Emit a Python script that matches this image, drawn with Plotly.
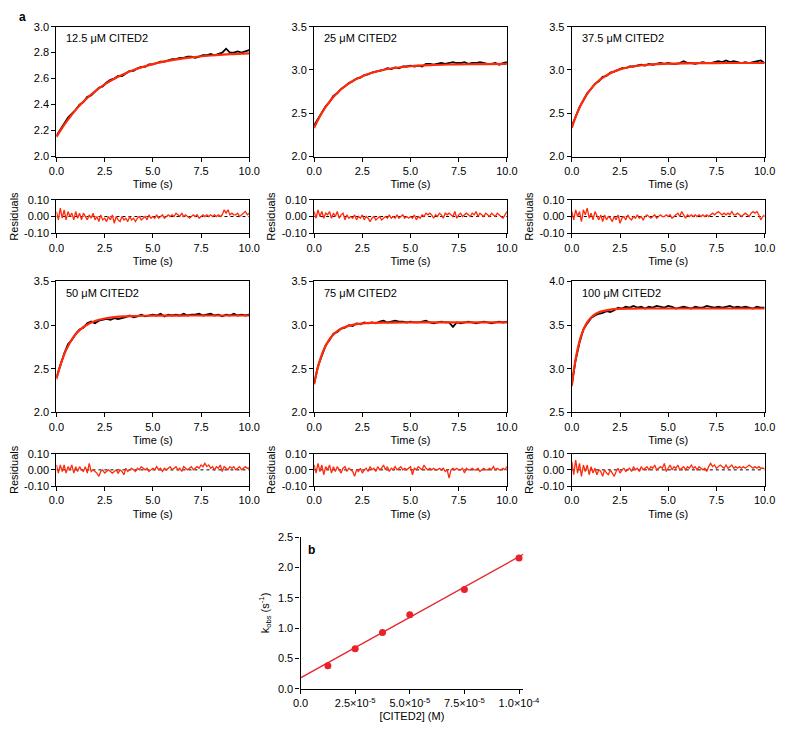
import plotly.graph_objects as go

# ---------------- data ----------------
CONC_LABELS = ["12.5 μM CITED2", "25 μM CITED2", "37.5 μM CITED2",
               "50 μM CITED2", "75 μM CITED2", "100 μM CITED2"]

TIME_FIT = [0, 0.1, 0.2, 0.3, 0.4, 0.5, 0.75, 1, 1.25, 1.5, 2, 2.5, 3, 3.5, 4, 5, 6, 7, 8, 9, 10]

TIME_TRACE = [0, 0.2, 0.4, 0.6, 0.8, 1.0, 1.2, 1.4, 1.6, 1.8,
              2.0, 2.2, 2.4, 2.6, 2.8, 3.0, 3.2, 3.4, 3.6, 3.8,
              4.0, 4.2, 4.4, 4.6, 4.8, 5.0, 5.2, 5.4, 5.6, 5.8,
              6.0, 6.2, 6.4, 6.6, 6.8, 7.0, 7.2, 7.4, 7.6, 7.8,
              8.0, 8.2, 8.4, 8.6, 8.8, 9.0, 9.2, 9.4, 9.6, 9.8,
              10.0]

TIME_RES = [0, 0.1, 0.2, 0.3, 0.4, 0.5, 0.6, 0.7, 0.8, 0.9,
            1.0, 1.1, 1.2, 1.3, 1.4, 1.5, 1.6, 1.7, 1.8, 1.9,
            2.0, 2.1, 2.2, 2.3, 2.4, 2.5, 2.6, 2.7, 2.8, 2.9,
            3.0, 3.1, 3.2, 3.3, 3.4, 3.5, 3.6, 3.7, 3.8, 3.9,
            4.0, 4.1, 4.2, 4.3, 4.4, 4.5, 4.6, 4.7, 4.8, 4.9,
            5.0, 5.1, 5.2, 5.3, 5.4, 5.5, 5.6, 5.7, 5.8, 5.9,
            6.0, 6.1, 6.2, 6.3, 6.4, 6.5, 6.6, 6.7, 6.8, 6.9,
            7.0, 7.1, 7.2, 7.3, 7.4, 7.5, 7.6, 7.7, 7.8, 7.9,
            8.0, 8.1, 8.2, 8.3, 8.4, 8.5, 8.6, 8.7, 8.8, 8.9,
            9.0, 9.1, 9.2, 9.3, 9.4, 9.5, 9.6, 9.7, 9.8, 9.9,
            10.0]

# fitted single-exponential curves
FIT_125 = [2.150, 2.175, 2.198, 2.221, 2.243, 2.264, 2.314, 2.359, 2.400, 2.437, 2.501,
           2.555, 2.599, 2.635, 2.666, 2.711, 2.742, 2.764, 2.778, 2.788, 2.795]
FIT_25 = [2.330, 2.377, 2.422, 2.463, 2.502, 2.538, 2.619, 2.688, 2.746, 2.795, 2.872,
          2.928, 2.968, 2.997, 3.017, 3.043, 3.056, 3.063, 3.066, 3.068, 3.069]
FIT_375 = [2.330, 2.397, 2.457, 2.513, 2.563, 2.609, 2.707, 2.784, 2.846, 2.894, 2.963,
           3.007, 3.034, 3.051, 3.062, 3.073, 3.077, 3.079, 3.080, 3.080, 3.080]
FIT_50 = [2.380, 2.464, 2.538, 2.604, 2.662, 2.713, 2.818, 2.895, 2.951, 2.993, 3.046,
          3.075, 3.091, 3.100, 3.104, 3.108, 3.109, 3.110, 3.110, 3.110, 3.110]
FIT_75 = [2.320, 2.427, 2.519, 2.596, 2.662, 2.717, 2.822, 2.892, 2.939, 2.969, 3.003,
          3.018, 3.025, 3.028, 3.029, 3.030, 3.030, 3.030, 3.030, 3.030, 3.030]
FIT_100 = [2.800, 2.973, 3.112, 3.224, 3.315, 3.388, 3.514, 3.587, 3.630, 3.655, 3.678,
           3.686, 3.689, 3.690, 3.690, 3.690, 3.690, 3.690, 3.690, 3.690, 3.690]

# measured traces (black)
DATA_125 = [2.16, 2.21, 2.25, 2.30, 2.33, 2.36, 2.40, 2.42, 2.46, 2.47,
            2.50, 2.53, 2.54, 2.57, 2.59, 2.60, 2.62, 2.62, 2.64, 2.66,
            2.66, 2.68, 2.69, 2.69, 2.71, 2.71, 2.72, 2.73, 2.73, 2.74,
            2.75, 2.75, 2.76, 2.76, 2.77, 2.77, 2.76, 2.77, 2.78, 2.78,
            2.79, 2.78, 2.79, 2.80, 2.83, 2.80, 2.80, 2.81, 2.80, 2.81,
            2.82]
DATA_25 = [2.36, 2.43, 2.50, 2.58, 2.63, 2.70, 2.73, 2.78, 2.81, 2.85,
           2.87, 2.90, 2.91, 2.94, 2.95, 2.97, 2.98, 2.99, 3.00, 3.02,
           3.01, 3.03, 3.02, 3.04, 3.04, 3.05, 3.04, 3.05, 3.04, 3.07,
           3.07, 3.06, 3.07, 3.08, 3.07, 3.08, 3.09, 3.08, 3.08, 3.09,
           3.07, 3.08, 3.08, 3.09, 3.08, 3.07, 3.07, 3.08, 3.06, 3.08,
           3.09]
DATA_375 = [2.35, 2.47, 2.57, 2.65, 2.73, 2.78, 2.84, 2.87, 2.92, 2.93,
            2.97, 2.98, 3.00, 3.02, 3.02, 3.04, 3.04, 3.05, 3.06, 3.05,
            3.07, 3.06, 3.07, 3.08, 3.07, 3.08, 3.07, 3.07, 3.08, 3.10,
            3.08, 3.08, 3.07, 3.08, 3.09, 3.08, 3.08, 3.09, 3.10, 3.09,
            3.11, 3.09, 3.10, 3.09, 3.08, 3.09, 3.08, 3.09, 3.10, 3.11,
            3.08]
DATA_50 = [2.40, 2.55, 2.67, 2.78, 2.83, 2.90, 2.95, 2.97, 3.02, 3.04,
           3.02, 3.05, 3.06, 3.07, 3.06, 3.08, 3.07, 3.08, 3.09, 3.11,
           3.09, 3.10, 3.12, 3.10, 3.11, 3.12, 3.11, 3.13, 3.10, 3.12,
           3.11, 3.12, 3.11, 3.13, 3.11, 3.12, 3.12, 3.13, 3.11, 3.12,
           3.13, 3.11, 3.12, 3.10, 3.12, 3.11, 3.13, 3.11, 3.12, 3.11,
           3.12]
DATA_75 = [2.33, 2.53, 2.65, 2.77, 2.83, 2.90, 2.92, 2.96, 2.97, 3.00,
           2.99, 3.02, 3.01, 3.03, 3.02, 3.03, 3.02, 3.04, 3.05, 3.03,
           3.04, 3.05, 3.04, 3.04, 3.03, 3.04, 3.03, 3.03, 3.04, 3.05,
           3.03, 3.02, 3.03, 3.04, 3.03, 3.03, 2.98, 3.03, 3.02, 3.03,
           3.04, 3.03, 3.02, 3.03, 3.04, 3.03, 3.02, 3.03, 3.04, 3.03,
           3.04]
DATA_100 = [2.82, 3.10, 3.30, 3.45, 3.52, 3.58, 3.61, 3.63, 3.64, 3.66,
            3.65, 3.67, 3.70, 3.69, 3.71, 3.70, 3.72, 3.70, 3.71, 3.69,
            3.71, 3.70, 3.72, 3.71, 3.70, 3.72, 3.71, 3.69, 3.70, 3.71,
            3.70, 3.69, 3.71, 3.70, 3.70, 3.72, 3.71, 3.70, 3.71, 3.70,
            3.71, 3.72, 3.70, 3.71, 3.70, 3.71, 3.70, 3.69, 3.71, 3.70,
            3.70]

# residuals (red, lower panels)
RES_125 = [0.03, -0.02, 0.05, -0.01, 0.04, -0.02, 0.03, 0.00, 0.02, -0.02,
           0.03, -0.01, 0.02, -0.02, 0.02, 0.00, -0.02, 0.01, -0.01, 0.02,
           -0.02, 0.00, -0.03, 0.01, -0.02, -0.01, -0.03, 0.00, -0.02, 0.01,
           -0.04, 0.00, -0.02, -0.03, 0.00, -0.02, -0.01, -0.03, 0.00, -0.02,
           -0.01, -0.03, -0.01, 0.00, -0.02, -0.01, 0.00, -0.02, 0.01, -0.01,
           0.00, -0.01, 0.01, -0.01, 0.00, 0.01, -0.01, 0.00, 0.01, 0.00,
           0.01, 0.00, 0.02, 0.01, 0.00, 0.02, 0.00, 0.01, 0.00, -0.01,
           0.00, 0.01, 0.00, 0.01, -0.01, 0.00, 0.01, 0.00, 0.01, 0.00,
           0.01, 0.00, 0.01, 0.00, 0.01, 0.00, 0.01, 0.04, 0.02, 0.04,
           0.01, 0.02, 0.01, 0.01, 0.02, 0.00, 0.01, 0.02, 0.03, 0.01,
           0.02]
RES_25 = [0.03, -0.01, 0.04, 0.00, 0.03, -0.01, 0.02, 0.01, 0.03, -0.01,
          0.02, 0.00, 0.03, -0.01, 0.01, 0.02, -0.02, 0.01, -0.01, 0.00,
          -0.01, 0.01, -0.02, 0.00, -0.01, 0.01, -0.02, 0.00, -0.01, -0.03,
          -0.01, 0.00, -0.02, -0.01, 0.00, -0.02, -0.01, 0.00, -0.01, 0.01,
          -0.01, 0.00, -0.01, 0.01, -0.01, 0.00, 0.01, -0.01, 0.00, -0.01,
          0.00, -0.01, 0.01, -0.02, 0.00, -0.01, 0.01, 0.00, 0.02, 0.01,
          0.02, 0.01, -0.01, 0.01, 0.00, 0.02, 0.01, -0.01, 0.02, 0.01,
          0.02, 0.01, 0.00, 0.03, -0.01, 0.01, 0.02, 0.00, 0.01, 0.02,
          0.01, 0.00, 0.02, 0.01, 0.03, 0.00, 0.02, 0.01, 0.00, 0.02,
          0.01, 0.00, 0.02, 0.01, 0.00, 0.02, 0.01, 0.00, -0.01, 0.01,
          0.03]
RES_375 = [0.03, -0.02, 0.04, 0.00, 0.03, -0.03, 0.04, 0.01, 0.05, -0.01,
           0.02, -0.02, 0.03, 0.00, -0.02, 0.01, -0.03, 0.01, -0.02, 0.00,
           -0.01, -0.03, 0.00, -0.02, 0.01, -0.04, -0.01, 0.00, -0.02, 0.01,
           -0.01, -0.02, 0.00, -0.01, 0.01, -0.01, 0.00, -0.02, 0.00, 0.01,
           0.00, -0.01, 0.00, 0.01, -0.01, 0.00, 0.01, 0.00, 0.00, 0.01,
           0.00, 0.01, -0.01, 0.00, 0.01, 0.02, 0.00, 0.03, 0.01, -0.01,
           0.01, 0.00, 0.01, 0.00, 0.01, 0.00, 0.01, 0.00, 0.01, 0.00,
           0.01, 0.00, 0.01, 0.02, 0.01, 0.02, 0.03, 0.02, 0.01, 0.02,
           0.01, 0.02, 0.01, 0.03, 0.01, 0.01, 0.02, 0.01, 0.00, 0.01,
           0.02, 0.01, 0.00, 0.02, 0.03, 0.02, 0.03, 0.01, -0.02, 0.00,
           0.01]
RES_50 = [0.03, -0.02, 0.03, -0.01, 0.03, -0.02, 0.02, 0.00, 0.03, -0.02,
          0.02, -0.01, 0.02, 0.00, -0.01, 0.02, -0.02, 0.04, -0.01, 0.00,
          -0.01, -0.02, -0.04, -0.01, 0.00, -0.02, -0.01, 0.00, -0.01, -0.02,
          -0.01, 0.00, -0.02, 0.00, -0.01, -0.03, 0.01, -0.01, 0.00, 0.01,
          0.00, -0.01, 0.01, 0.00, 0.02, 0.01, 0.00, 0.01, -0.01, 0.00,
          0.01, 0.00, 0.02, 0.00, 0.01, -0.01, 0.01, 0.00, 0.01, 0.02,
          0.00, 0.01, 0.02, 0.00, 0.01, -0.01, 0.02, 0.01, 0.00, 0.01,
          0.02, 0.00, 0.01, 0.02, 0.01, 0.03, 0.02, 0.04, 0.02, 0.03,
          0.01, 0.02, 0.00, 0.02, 0.01, 0.03, -0.01, 0.02, 0.01, 0.00,
          0.02, 0.01, 0.02, 0.00, 0.01, 0.02, 0.00, 0.01, 0.02, 0.01,
          0.01]
RES_75 = [0.03, -0.02, 0.04, -0.01, 0.03, -0.03, 0.02, 0.00, 0.03, -0.02,
          0.02, -0.01, 0.02, 0.00, -0.02, 0.01, 0.02, -0.01, 0.01, 0.00,
          -0.01, -0.04, 0.00, -0.01, 0.01, -0.02, 0.00, 0.01, -0.01, 0.02,
          0.00, 0.01, -0.01, 0.02, 0.00, 0.01, 0.03, 0.00, 0.02, -0.01,
          0.01, 0.00, 0.02, 0.00, 0.01, 0.02, 0.00, 0.01, 0.00, 0.01,
          0.02, -0.03, 0.01, 0.00, 0.02, 0.01, 0.00, 0.03, 0.01, 0.00,
          0.01, 0.00, 0.01, 0.00, 0.00, 0.01, 0.00, 0.01, -0.01, 0.00,
          -0.05, 0.00, 0.01, 0.00, 0.01, 0.00, 0.00, 0.01, -0.02, 0.01,
          0.00, 0.00, 0.01, 0.00, 0.00, 0.01, -0.01, 0.00, 0.01, 0.00,
          0.00, 0.01, 0.00, 0.02, 0.00, 0.01, 0.00, 0.00, 0.01, 0.00,
          0.02]
RES_100 = [0.05, -0.03, 0.06, -0.02, 0.04, -0.04, 0.03, -0.01, 0.03, -0.03,
           0.02, -0.02, 0.01, -0.03, 0.00, -0.01, -0.04, 0.00, -0.02, -0.03,
           0.00, -0.02, -0.04, -0.01, 0.01, -0.02, 0.00, 0.01, -0.01, 0.00,
           0.01, -0.01, 0.02, 0.00, 0.01, -0.01, 0.02, 0.00, 0.01, 0.02,
           0.00, 0.02, 0.01, 0.03, 0.00, 0.01, 0.02, 0.01, 0.04, -0.01,
           0.01, 0.03, 0.00, 0.02, 0.01, 0.03, 0.00, 0.01, 0.02, 0.00,
           0.02, 0.01, 0.03, 0.01, 0.02, 0.00, 0.02, 0.01, 0.00, 0.01,
           -0.01, 0.02, 0.04, 0.02, 0.03, 0.01, 0.02, 0.03, 0.02, 0.01,
           0.03, 0.01, 0.02, 0.03, 0.01, 0.02, 0.01, 0.02, 0.01, 0.02,
           0.01, 0.02, 0.03, 0.02, 0.01, 0.02, 0.01, 0.02, 0.01, 0.01,
           0.01]

FITS = [FIT_125, FIT_25, FIT_375, FIT_50, FIT_75, FIT_100]
DATAS = [DATA_125, DATA_25, DATA_375, DATA_50, DATA_75, DATA_100]
RESIDS = [RES_125, RES_25, RES_375, RES_50, RES_75, RES_100]
Y_RANGES = [[2.0, 3.0], [2.0, 3.5], [2.0, 3.5], [2.0, 3.5], [2.0, 3.5], [2.5, 4.0]]
Y_DTICKS = [0.2, 0.5, 0.5, 0.5, 0.5, 0.5]

TIME_TICKS = [0, 2.5, 5, 7.5, 10]
TIME_TICKTEXT = ["0.0", "2.5", "5.0", "7.5", "10.0"]
RES_TICKS = [-0.1, 0.0, 0.1]
RES_TICKTEXT = ["-0.10", "0.00", "0.10"]

# panel b
CITED2_M = [1.25e-5, 2.5e-5, 3.75e-5, 5.0e-5, 7.5e-5, 1.0e-4]
KOBS = [0.38, 0.66, 0.93, 1.22, 1.64, 2.16]
LINFIT_X = [0.0, 1.02e-4]
LINFIT_Y = [0.18, 2.22]
B_XTICKS = [0, 2.5e-5, 5.0e-5, 7.5e-5, 1.0e-4]
B_XTICKTEXT = ["0.0", "2.5×10<sup>-5</sup>", "5.0×10<sup>-5</sup>",
               "7.5×10<sup>-5</sup>", "1.0×10<sup>-4</sup>"]

# ---------------- style / layout ----------------
W, H = 800, 742
FONT = "Liberation Sans, Arial, Helvetica, sans-serif"
RED = "#FF2A0A"
RED_B = "#E8222A"
TICKFONT = dict(family=FONT, size=11, color="black")

COL_X = [(50, 249), (316, 515), (582, 781)]
ROW_MAIN = [(21, 153), (280, 413)]
ROW_RES = [(197, 231), (455, 488)]


def dx(a, b):
    return [a / W, b / W]


def dy(top, bottom):
    return [1 - bottom / H, 1 - top / H]


def axis_common():
    return dict(showline=True, linewidth=1.3, linecolor="black", mirror=True,
                ticks="outside", ticklen=4, tickwidth=1, tickcolor="black",
                showgrid=False, zeroline=False, tickfont=TICKFONT)


fig = go.Figure()
layout = dict(width=W, height=H, margin=dict(l=0, r=0, t=0, b=0),
              paper_bgcolor="white", plot_bgcolor="white", showlegend=False,
              font=dict(family=FONT, size=11, color="black"))
annotations = []
shapes = []

for i in range(6):
    r, c = divmod(i, 3)
    m = 2 * i + 1
    s = 2 * i + 2
    mx, my = f"x{m}", f"y{m}"
    sx, sy = f"x{s}", f"y{s}"

    fig.add_trace(go.Scatter(x=TIME_TRACE, y=DATAS[i], mode="lines",
                             line=dict(color="black", width=1.8),
                             xaxis=mx, yaxis=my))
    fig.add_trace(go.Scatter(x=TIME_FIT, y=FITS[i], mode="lines",
                             line=dict(color=RED, width=2.2, shape="spline"),
                             xaxis=mx, yaxis=my))
    fig.add_trace(go.Scatter(x=TIME_RES, y=RESIDS[i], mode="lines",
                             line=dict(color=RED, width=1.3),
                             xaxis=sx, yaxis=sy))

    xa = axis_common()
    xa.update(domain=dx(*COL_X[c]), range=[0, 10], tickvals=TIME_TICKS,
              ticktext=TIME_TICKTEXT, anchor=my,
              title=dict(text="Time (s)", font=TICKFONT, standoff=4))
    ya = axis_common()
    ya.update(domain=dy(*ROW_MAIN[r]), range=Y_RANGES[i], dtick=Y_DTICKS[i],
              tick0=Y_RANGES[i][0], tickformat=".1f", anchor=mx)
    layout[f"xaxis{m}"] = xa
    layout[f"yaxis{m}"] = ya

    xr = axis_common()
    xr.update(domain=dx(*COL_X[c]), range=[0, 10], tickvals=TIME_TICKS,
              ticktext=TIME_TICKTEXT, anchor=sy,
              title=dict(text="Time (s)", font=TICKFONT, standoff=4))
    yr = axis_common()
    yr.update(domain=dy(*ROW_RES[r]), range=[-0.1, 0.1], tickvals=RES_TICKS,
              ticktext=RES_TICKTEXT, anchor=sx,
              title=dict(text="Residuals", font=TICKFONT, standoff=3))
    layout[f"xaxis{s}"] = xr
    layout[f"yaxis{s}"] = yr

    shapes.append(dict(type="line", xref=sx, yref=sy, x0=0, x1=10, y0=0, y1=0,
                       line=dict(color="black", width=1, dash="dot"), layer="below"))

    annotations.append(dict(text=CONC_LABELS[i], xref="paper", yref="paper",
                            x=(COL_X[c][0] + 8) / W, y=1 - (ROW_MAIN[r][0] + 12) / H,
                            xanchor="left", yanchor="middle", showarrow=False,
                            font=dict(family=FONT, size=11, color="black")))

# panel b
fig.add_trace(go.Scatter(x=LINFIT_X, y=LINFIT_Y, mode="lines",
                         line=dict(color=RED_B, width=1.3),
                         xaxis="x13", yaxis="y13"))
fig.add_trace(go.Scatter(x=CITED2_M, y=KOBS, mode="markers",
                         marker=dict(color=RED_B, size=7),
                         xaxis="x13", yaxis="y13", cliponaxis=False))
xb = axis_common()
xb.update(mirror=False, domain=dx(302, 532), range=[0, 1.02e-4], tickvals=B_XTICKS,
          ticktext=B_XTICKTEXT, anchor="y13",
          title=dict(text="[CITED2] (M)", font=TICKFONT, standoff=4))
yb = axis_common()
yb.update(mirror=False, domain=dy(540, 694), range=[0, 2.5], dtick=0.5,
          tickformat=".1f", anchor="x13",
          title=dict(text="k<sub>obs</sub> (s<sup>-1</sup>)", font=TICKFONT, standoff=6))
layout["xaxis13"] = xb
layout["yaxis13"] = yb

annotations.append(dict(text="<b>a</b>", xref="paper", yref="paper",
                        x=15 / W, y=1 - 11 / H, xanchor="center", yanchor="middle",
                        showarrow=False, font=dict(family=FONT, size=12, color="black")))
annotations.append(dict(text="<b>b</b>", xref="paper", yref="paper",
                        x=313 / W, y=1 - 553 / H, xanchor="center", yanchor="middle",
                        showarrow=False, font=dict(family=FONT, size=12, color="black")))

layout["annotations"] = annotations
layout["shapes"] = shapes
fig.update_layout(**layout)

fig.write_html("out.html",
               config={"displayModeBar": False},
               post_script="document.body.style.margin='0px';"
                           "document.body.style.overflow='hidden';")
